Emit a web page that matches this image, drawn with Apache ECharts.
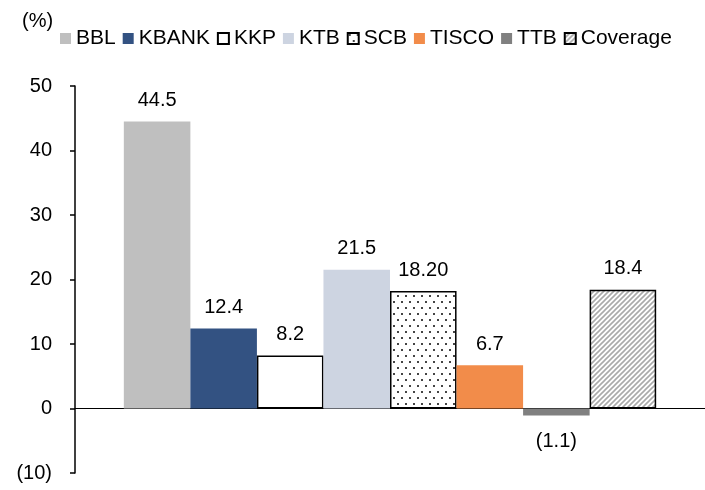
<!DOCTYPE html>
<html>
<head>
<meta charset="utf-8">
<script src="https://cdn.jsdelivr.net/npm/echarts@6/dist/echarts.min.js"></script>
<style>
  html, body { margin: 0; padding: 0; background: #fff; }
  #chart { width: 705px; height: 490px; }
</style>
</head>
<body>
<div id="chart"></div>
<script>
// bank names (legend / series)
var banks = ['BBL', 'KBANK', 'KKP', 'KTB', 'SCB', 'TISCO', 'TTB', 'Coverage'];
// values in %
var values = [44.5, 12.4, 8.2, 21.5, 18.2, 6.7, -1.1, 18.4];
// labels as printed on the chart
var valueLabels = ['44.5', '12.4', '8.2', '21.5', '18.20', '6.7', '(1.1)', '18.4'];
var yTicks = { min: -10, max: 50, step: 10 };

// dotted fill for SCB
function dotPattern() {
  var c = document.createElement('canvas');
  c.width = 8; c.height = 12;
  var ctx = c.getContext('2d');
  ctx.fillStyle = '#fff';
  ctx.fillRect(0, 0, 8, 12);
  ctx.fillStyle = '#444';
  ctx.fillRect(1, 1, 2, 2);
  ctx.fillRect(5, 7, 2, 2);
  return c;
}
// diagonal hatch for Coverage
function hatchPattern() {
  var c = document.createElement('canvas');
  c.width = 5; c.height = 5;
  var ctx = c.getContext('2d');
  ctx.fillStyle = '#fff';
  ctx.fillRect(0, 0, 5, 5);
  ctx.strokeStyle = '#aaa';
  ctx.lineWidth = 1.6;
  ctx.beginPath();
  ctx.moveTo(-1, 6); ctx.lineTo(6, -1);
  ctx.moveTo(-1, 1); ctx.lineTo(1, -1);
  ctx.moveTo(4, 6); ctx.lineTo(6, 4);
  ctx.stroke();
  return c;
}

var styles = [
  { color: '#BFBFBF' },
  { color: '#335282' },
  { color: '#ffffff', borderColor: '#000', borderWidth: 1.5 },
  { color: '#CDD4E1' },
  { color: { image: dotPattern(), repeat: 'repeat' }, borderColor: '#000', borderWidth: 1.5 },
  { color: '#F28C4A' },
  { color: '#808080' },
  { color: { image: hatchPattern(), repeat: 'repeat' }, borderColor: '#000', borderWidth: 1.5 }
];

var series = [];
for (var i = 0; i < banks.length; i++) {
  (function (i) {
    series.push({
      name: banks[i],
      type: 'bar',
      barGap: '0%',
      barCategoryGap: '15.5%',
      itemStyle: styles[i],
      label: {
        show: true,
        position: values[i] < 0 ? 'bottom' : 'top',
        distance: values[i] < 0 ? 16 : 11,
        fontSize: 20,
        color: '#000',
        formatter: function () { return valueLabels[i]; }
      },
      data: [values[i]]
    });
  })(i);
}

var chart = echarts.init(document.getElementById('chart'));
chart.setOption({
  backgroundColor: '#fff',
  animation: false,
  textStyle: { fontFamily: 'Liberation Sans, Arial, sans-serif' },
  title: {
    text: '(%)',
    left: 17,
    top: 6,
    textStyle: { fontSize: 20, fontWeight: 'normal', color: '#000' }
  },
  legend: {
    data: banks,
    left: 55,
    top: 23,
    icon: 'rect',
    itemWidth: 11,
    itemHeight: 11,
    itemGap: 7,
    textStyle: { fontSize: 21, color: '#000' }
  },
  grid: { left: 75, right: 0, top: 86, bottom: 17 },
  xAxis: {
    type: 'category',
    data: [''],
    axisLine: { lineStyle: { color: '#000', width: 1.2 } },
    axisTick: { show: false },
    axisLabel: { show: false }
  },
  yAxis: {
    type: 'value',
    min: yTicks.min,
    max: yTicks.max,
    interval: yTicks.step,
    axisLine: { show: true, lineStyle: { color: '#000', width: 1.5 } },
    axisTick: { show: true, length: 5, lineStyle: { color: '#000', width: 1.5 } },
    splitLine: { show: false },
    axisLabel: {
      fontSize: 20,
      color: '#000',
      margin: 23,
      formatter: function (v) { return v < 0 ? '(' + (-v) + ')' : v; }
    }
  },
  series: series
});
</script>
</body>
</html>
